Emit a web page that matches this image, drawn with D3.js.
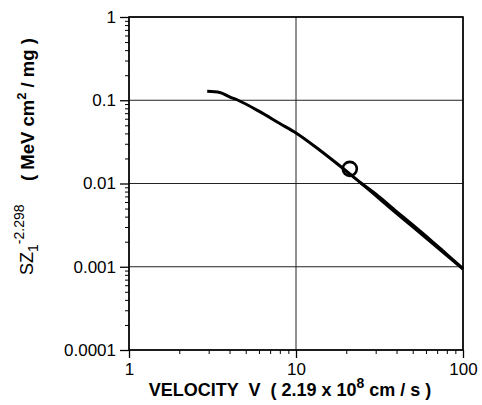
<!DOCTYPE html>
<html>
<head>
<meta charset="utf-8">
<script src="https://cdn.jsdelivr.net/npm/d3@7"></script>
<style>
  body { margin: 0; background: #fff; }
  svg { display: block; font-family: "Liberation Sans", Arial, sans-serif; }
  text { white-space: pre; }
</style>
</head>
<body>
<svg id="vis"></svg>
<script>
const width = 482;
const height = 405;
const margin = {top: 17, right: 19, bottom: 55, left: 129};

// main curve
const velocity = [2.94, 3.5, 4.0, 4.5, 6.1, 8.0, 10, 13.9, 17.5, 24.2, 40, 63.5, 100];
const stopping = [0.128, 0.124, 0.110, 0.100, 0.0724, 0.0525, 0.0405, 0.0251, 0.0175, 0.0103, 0.00438, 0.00202, 0.00094];
// second, overlapping trace that makes the line look thick at high velocity
const velocityB = [24.2, 30, 40, 50, 63.5, 80, 100];
const stoppingB = [0.0103, 0.0075, 0.0046, 0.00318, 0.00212, 0.00141, 0.00095];
// single marked point
const pointV = [21];
const pointS = [0.015];

const xTicks = [1, 10, 100];
const yTicks = [0.0001, 0.001, 0.01, 0.1, 1];

const svg = d3.select('#vis').attr('width', width).attr('height', height);
const iw = width - margin.left - margin.right;
const ih = height - margin.top - margin.bottom;
const g = svg.append('g').attr('transform', `translate(${margin.left},${margin.top})`);

const x = d3.scaleLog().domain([1, 100]).range([0, iw]);
const y = d3.scaleLog().domain([0.0001, 1]).range([ih, 0]);

const minorX = [];
for (let d = 1; d < 100; d *= 10) for (let k = 2; k <= 9; k++) minorX.push(d * k);
const minorY = [];
for (let d = 0.0001; d < 1; d *= 10) for (let k = 2; k <= 9; k++) minorY.push(+(d * k).toPrecision(3));

// grid
g.append('g').selectAll('line').data(xTicks).join('line')
  .attr('x1', d => x(d)).attr('x2', d => x(d)).attr('y1', 0).attr('y2', ih)
  .attr('stroke', '#222').attr('stroke-width', 1);
g.append('g').selectAll('line').data(yTicks).join('line')
  .attr('y1', d => y(d)).attr('y2', d => y(d)).attr('x1', 0).attr('x2', iw)
  .attr('stroke', '#222').attr('stroke-width', 1);

// minor ticks
g.append('g').attr('transform', `translate(0,${ih})`)
  .call(d3.axisBottom(x).tickValues(minorX).tickSize(4).tickFormat(''))
  .call(a => a.select('.domain').remove());
g.append('g')
  .call(d3.axisLeft(y).tickValues(minorY).tickSize(4).tickFormat(''))
  .call(a => a.select('.domain').remove());

// major axes
const xAxis = g.append('g').attr('transform', `translate(0,${ih})`)
  .call(d3.axisBottom(x).tickValues(xTicks).tickSize(8).tickPadding(5).tickFormat(d => String(d)));
const yAxis = g.append('g')
  .call(d3.axisLeft(y).tickValues(yTicks).tickSize(9).tickPadding(4).tickFormat(d => String(d)));
[xAxis, yAxis].forEach(a => {
  a.selectAll('text').attr('font-size', 17).attr('fill', '#000').attr('font-family', '"Liberation Sans", Arial, sans-serif');
  a.selectAll('line').attr('stroke', '#000').attr('stroke-width', 1.3);
  a.select('.domain').remove();
});

// frame
g.append('rect').attr('width', iw).attr('height', ih)
  .attr('fill', 'none').attr('stroke', '#000').attr('stroke-width', 1.6);

// curves
const line = d3.line().x(d => x(d[0])).y(d => y(d[1])).curve(d3.curveMonotoneX);
g.append('path').datum(d3.zip(velocity, stopping))
  .attr('d', line).attr('fill', 'none').attr('stroke', '#000').attr('stroke-width', 3);
g.append('path').datum(d3.zip(velocityB, stoppingB))
  .attr('d', line).attr('fill', 'none').attr('stroke', '#000').attr('stroke-width', 3);

g.selectAll('circle.pt').data(d3.zip(pointV, pointS)).join('circle')
  .attr('class', 'pt')
  .attr('cx', d => x(d[0])).attr('cy', d => y(d[1])).attr('r', 7)
  .attr('fill', 'none').attr('stroke', '#000').attr('stroke-width', 2.6);

// x label
const xl = svg.append('text').attr('x', 290).attr('y', 396).attr('text-anchor', 'middle')
  .attr('font-size', 18).attr('font-weight', 'bold');
xl.append('tspan').text('VELOCITY  V  ( 2.19 x 10');
xl.append('tspan').attr('dy', -8).attr('font-size', 14).text('8');
xl.append('tspan').attr('dy', 8).text(' cm / s )');

// y label, in two pieces
const yl = svg.append('text').attr('transform', 'translate(33,275) rotate(-90)');
yl.append('tspan').attr('font-size', 18).text('SZ');
yl.append('tspan').attr('font-size', 14).attr('dy', 5).text('1');
yl.append('tspan').attr('font-size', 14).attr('dy', -14).text('-2.298');

const yu = svg.append('text').attr('transform', 'translate(34,181) rotate(-90)')
  .attr('font-size', 18.5).attr('font-weight', 'bold');
yu.append('tspan').text('( MeV cm');
yu.append('tspan').attr('font-size', 13).attr('dy', -8).text('2');
yu.append('tspan').attr('dy', 8).text(' / mg )');
</script>
</body>
</html>
